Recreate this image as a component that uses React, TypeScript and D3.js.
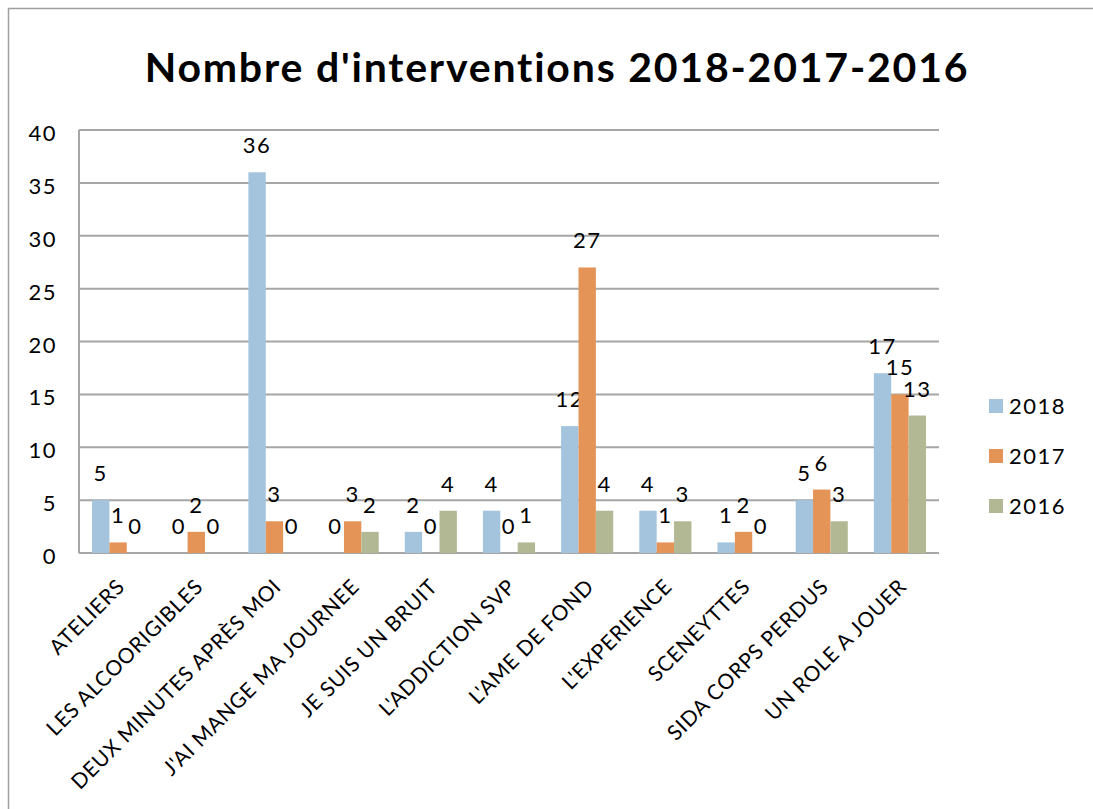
import React from "react";
import * as d3 from "d3";

const categories = [
  "ATELIERS",
  "LES ALCOORIGIBLES",
  "DEUX MINUTES APRÈS MOI",
  "J'AI MANGE MA JOURNEE",
  "JE SUIS UN BRUIT",
  "L'ADDICTION SVP",
  "L'AME DE FOND",
  "L'EXPERIENCE",
  "SCENEYTTES",
  "SIDA CORPS PERDUS",
  "UN ROLE A JOUER",
];
const seriesNames = ["2018", "2017", "2016"];
const values2018 = [5, 0, 36, 0, 2, 4, 12, 4, 1, 5, 17];
const values2017 = [1, 2, 3, 3, 0, 0, 27, 1, 2, 6, 15];
const values2016 = [0, 0, 0, 2, 4, 1, 4, 3, 0, 3, 13];
const seriesColors = ["#A3C4DC", "#E59457", "#B3B894"];
const yTicks = [0, 5, 10, 15, 20, 25, 30, 35, 40];
const title = "Nombre d'interventions 2018-2017-2016";

const FONT = "Lato, 'DejaVu Sans', sans-serif";

export default function App() {
  const W = 1093, H = 809;
  const left = 79, right = 939, top = 130, bottom = 553;
  const allSeries = [values2018, values2017, values2016];

  const x = d3.scaleBand<string>().domain(categories).range([left, right]).padding(0);
  const xs = d3
    .scaleBand<string>()
    .domain(seriesNames)
    .range([0, x.bandwidth()])
    .paddingInner(0)
    .paddingOuter(0.75);
  const y = d3.scaleLinear().domain([0, 40]).range([bottom, top]);
  const grid = "#A6A6A6";

  return (
    <svg width={W} height={H} style={{ position: "absolute", left: 0, top: 0 }} fontFamily={FONT}>
      <rect x={0} y={0} width={W} height={H} fill="#fff" />
      <rect x={8.5} y={8.5} width={W + 20} height={H + 20} fill="none" stroke="#A0A0A0" strokeWidth={1.5} />
      <text x={557} y={82} textAnchor="middle" fontSize={41} fontWeight={700} letterSpacing={1.8} fill="#000">
        {title}
      </text>
      {yTicks.map((t) => (
        <g key={t}>
          <line x1={left} x2={right} y1={y(t)} y2={y(t)} stroke={grid} strokeWidth={2} />
          <text x={57} y={y(t) + 11} textAnchor="end" fontSize={22} letterSpacing={1.5} fill="#000">
            {t}
          </text>
        </g>
      ))}
      <line x1={left} x2={left} y1={top} y2={bottom} stroke={grid} strokeWidth={2} />
      {allSeries.map((vals, si) =>
        vals.map((v, ci) => {
          const bx = (x(categories[ci]) as number) + (xs(seriesNames[si]) as number);
          const bw = xs.bandwidth();
          return (
            <g key={`${si}-${ci}`}>
              {v > 0 && (
                <rect x={bx} y={y(v)} width={bw} height={bottom - y(v)} fill={seriesColors[si]} />
              )}
              <text x={bx + bw / 2} y={y(v) - 19} textAnchor="middle" fontSize={22} letterSpacing={1.5} fill="#000">
                {v}
              </text>
            </g>
          );
        })
      )}
      {categories.map((c) => {
        const cx = (x(c) as number) + x.bandwidth() / 2;
        const ax = cx + 8;
        const ay = 588;
        return (
          <text
            key={c}
            x={ax}
            y={ay}
            textAnchor="end"
            fontSize={21}
            letterSpacing={0.7}
            fill="#000"
            transform={`rotate(-45 ${ax} ${ay})`}
          >
            {c}
          </text>
        );
      })}
      {seriesNames.map((s, i) => (
        <g key={s}>
          <rect x={989} y={399 + i * 50} width={14} height={14} fill={seriesColors[i]} />
          <text x={1009} y={414 + i * 50} fontSize={22} letterSpacing={1.5} fill="#000">
            {s}
          </text>
        </g>
      ))}
    </svg>
  );
}
